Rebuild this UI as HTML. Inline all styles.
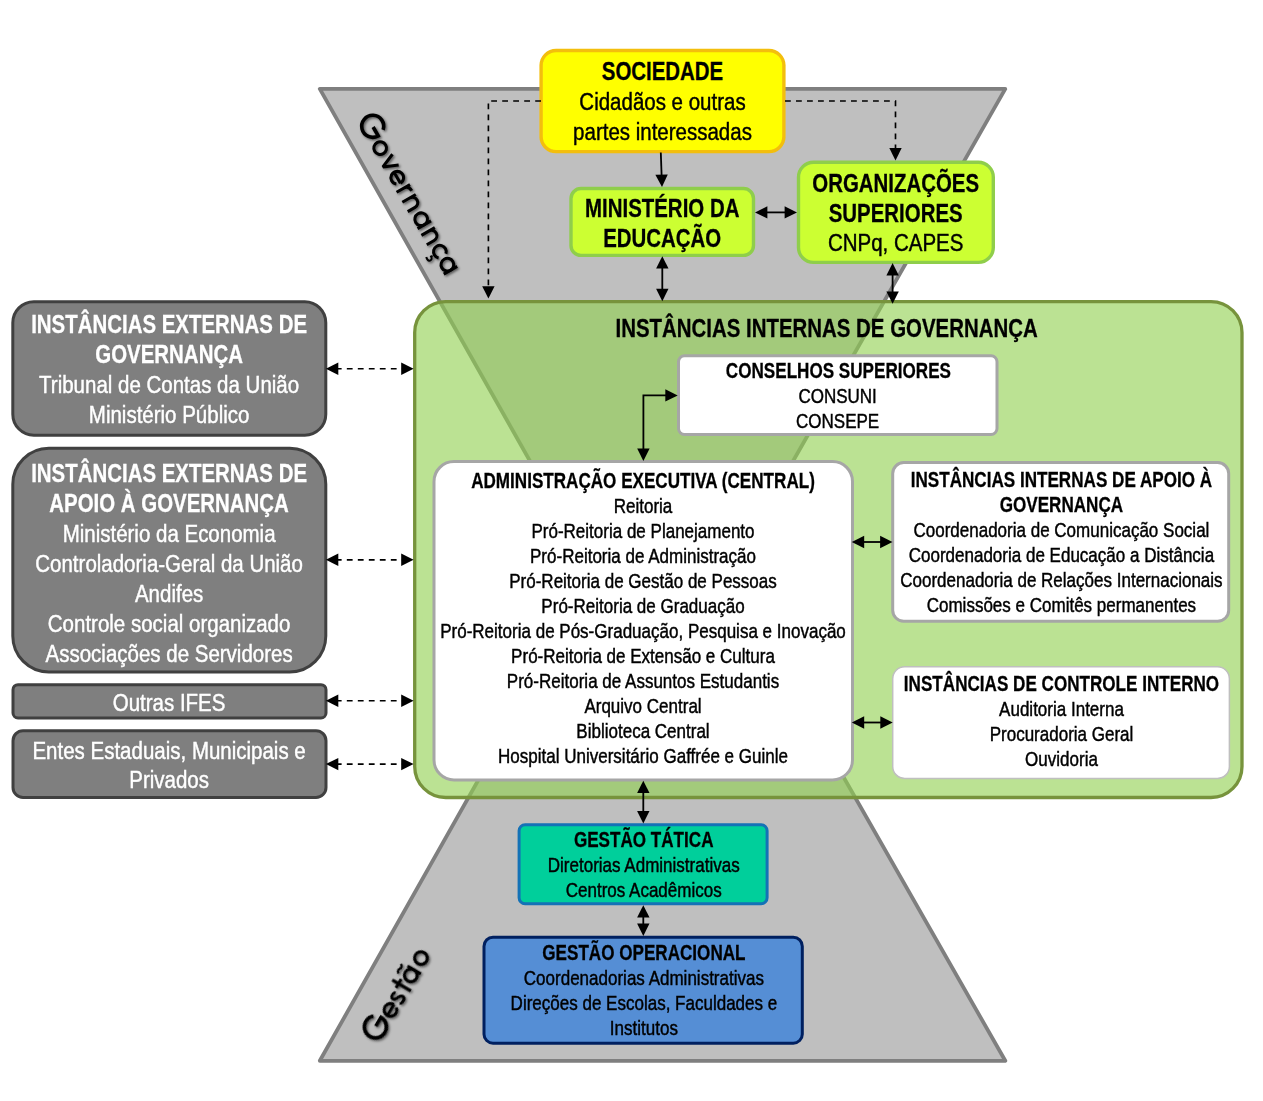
<!DOCTYPE html>
<html lang="pt-BR">
<head>
<meta charset="utf-8">
<title>Governança e Gestão</title>
<style>
html,body{margin:0;padding:0;background:#fff;}
body{width:1263px;height:1101px;overflow:hidden;font-family:"Liberation Sans",sans-serif;}
svg{display:block;}
text{font-family:"Liberation Sans",sans-serif;}
</style>
</head>
<body>
<svg width="1263" height="1101" viewBox="0 0 1263 1101">
<defs>
<filter id="sh" x="-20%" y="-20%" width="140%" height="140%">
<feDropShadow dx="1.4" dy="1.4" stdDeviation="1" flood-color="#000" flood-opacity="0.55"/>
</filter>
<filter id="soft" x="-5%" y="-5%" width="110%" height="110%"><feGaussianBlur stdDeviation="0.55"/></filter>
</defs>
<rect width="1263" height="1101" fill="#fff"/>
<polygon points="319.8,88.9 1005.3,88.9 728.2,574.8 1005.3,1060.8 319.8,1060.8 594.2,574.8" fill="#bfbfbf" stroke="#7f7f7f" stroke-width="3.8" stroke-linejoin="round"/>
<g fill="none" stroke="#000" stroke-width="3.05" stroke-linejoin="miter" filter="url(#sh)">
<g transform="translate(362.09 132.42) rotate(60.05)">
<path d="M8.30 -19.47 A11.0 11.0 0 1 0 11.00 -12.25 L0.80 -12.25" stroke-width="3.6"/><circle cx="22.6" cy="-7.85" r="6.35"/><path stroke-linejoin="bevel" d="M34.10 -15.4 L40.30 -0.8 L46.50 -15.4"/><path d="M63.15 -7.85 A6.35 6.35 0 1 0 61.80 -3.94 M50.45 -7.85 L63.15 -7.85"/><path d="M69.1 0 L69.1 -15.5 M69.1 -8.6 C69.1 -12.4 71.10 -13.8 75.40 -13.8"/><path d="M80.6 0 L80.6 -15.5 M80.6 -8.5 A5.4 5.4 0 0 1 91.39999999999999 -8.5 L91.39999999999999 0"/><circle cx="104.75" cy="-7.85" r="6.35"/><path d="M111.10 0 L111.10 -15.5"/><path d="M118.8 0 L118.8 -15.5 M118.8 -8.5 A5.4 5.4 0 0 1 129.6 -8.5 L129.6 0"/><path d="M146.92 -12.10 A6.35 6.35 0 1 0 146.92 -3.60"/><circle cx="157.2" cy="-7.85" r="6.35"/><path d="M163.55 0 L163.55 -15.5"/>
<path d="M142.3 0.6 L142.0 2.2 q3.4 0.2 3.0 2.9 q-0.7 2.6 -5.0 1.5" stroke-width="2.0"/>
</g>
<g transform="translate(385.95 1033.1) rotate(-59.5)">
<path d="M8.30 -19.47 A11.0 11.0 0 1 0 11.00 -12.25 L0.80 -12.25" stroke-width="3.6"/><path d="M28.65 -7.85 A6.35 6.35 0 1 0 27.30 -3.94 M15.95 -7.85 L28.65 -7.85"/><path d="M39.80 -12.2 C38.90 -14.5 33.00 -14.7 33.00 -11.3 C33.00 -7.6 40.20 -8.4 40.20 -4.3 C40.20 -0.6 33.50 -0.8 32.60 -3.4" stroke-width="2.9"/><path d="M49.0 0 L49.0 -21.6 M44.10 -14.3 L54.30 -14.3"/><circle cx="62.35" cy="-7.85" r="6.35"/><path d="M68.70 0 L68.70 -15.5"/><circle cx="82.4" cy="-7.85" r="6.35"/>
<path d="M57.6 -19.6 q2.4 -2.9 4.9 -1.2 q2.4 1.7 4.9 -1.2" stroke-width="2.3"/>
</g>
</g>
<rect x="414.7" y="301.6" width="827.3" height="495.9" rx="31" ry="31" fill="rgba(146,208,80,0.62)" stroke="#77933c" stroke-width="3.3"/>
<rect x="541.1" y="50.5" width="242.8" height="101.1" rx="15" ry="15" fill="#ffff00" stroke="#f3be0c" stroke-width="3.4" filter="url(#soft)"/>
<rect x="571" y="188.5" width="182.5" height="66.9" rx="10" ry="10" fill="#ccff33" stroke="#8fce4c" stroke-width="3.4" filter="url(#soft)"/>
<rect x="798.5" y="162.2" width="194.8" height="100.2" rx="15" ry="15" fill="#ccff33" stroke="#8fce4c" stroke-width="3.4" filter="url(#soft)"/>
<rect x="12.8" y="301.7" width="313" height="133.5" rx="21" ry="21" fill="#7f7f7f" stroke="#404040" stroke-width="3"/>
<rect x="12.8" y="448.3" width="313" height="223.6" rx="36" ry="36" fill="#7f7f7f" stroke="#404040" stroke-width="3"/>
<rect x="13" y="684.7" width="313" height="33.3" rx="5" ry="5" fill="#7f7f7f" stroke="#404040" stroke-width="3"/>
<rect x="13" y="730.7" width="313" height="66.7" rx="10" ry="10" fill="#7f7f7f" stroke="#404040" stroke-width="3"/>
<rect x="678.5" y="355.8" width="318.5" height="78.7" rx="6" ry="6" fill="#fff" stroke="#a6a6a6" stroke-width="3"/>
<rect x="434" y="461.5" width="418.5" height="318.4" rx="20" ry="20" fill="#fff" stroke="#a6a6a6" stroke-width="3"/>
<rect x="892.7" y="462.6" width="336" height="158.6" rx="11" ry="11" fill="#fff" stroke="#a6a6a6" stroke-width="3"/>
<rect x="892.7" y="666.8" width="336.7" height="111.6" rx="12" ry="12" fill="#fff" stroke="#bfbfbf" stroke-width="1.5"/>
<rect x="519.1" y="824.7" width="248" height="79" rx="6" ry="6" fill="#00cf9b" stroke="#1472b6" stroke-width="3"/>
<rect x="484" y="937.2" width="318.3" height="106" rx="9" ry="9" fill="#558ed5" stroke="#002060" stroke-width="3"/>
<path d="M660.80 152.50 L661.66 177.09" fill="none" stroke="#000" stroke-width="1.8"/>
<polygon points="662.00,187.00 655.37,174.82 667.77,174.39" fill="#000"/>
<path d="M764.92 212.40 L787.08 212.40" fill="none" stroke="#000" stroke-width="1.8"/>
<polygon points="797.00,212.40 784.60,218.60 784.60,206.20" fill="#000"/>
<polygon points="755.00,212.40 767.40,206.20 767.40,218.60" fill="#000"/>
<path d="M662.30 266.12 L662.30 291.28" fill="none" stroke="#000" stroke-width="1.8"/>
<polygon points="662.30,301.20 656.10,288.80 668.50,288.80" fill="#000"/>
<polygon points="662.30,256.20 668.50,268.60 656.10,268.60" fill="#000"/>
<path d="M892.60 272.92 L892.60 293.88" fill="none" stroke="#000" stroke-width="1.8"/>
<polygon points="892.60,303.80 886.40,291.40 898.80,291.40" fill="#000"/>
<polygon points="892.60,263.00 898.80,275.40 886.40,275.40" fill="#000"/>
<path d="M785.00 101.00 L895.50 101.00 L895.50 150.58" fill="none" stroke="#000" stroke-width="1.65" stroke-dasharray="5.8 5.2"/>
<polygon points="895.50,160.50 889.30,148.10 901.70,148.10" fill="#000"/>
<path d="M541.00 101.00 L488.40 101.00 L488.40 288.68" fill="none" stroke="#000" stroke-width="1.65" stroke-dasharray="5.8 5.2"/>
<polygon points="488.40,298.60 482.20,286.20 494.60,286.20" fill="#000"/>
<path d="M335.82 368.70 L403.68 368.70" fill="none" stroke="#000" stroke-width="1.65" stroke-dasharray="5.8 5.2"/>
<polygon points="413.60,368.70 401.20,374.90 401.20,362.50" fill="#000"/>
<polygon points="325.90,368.70 338.30,362.50 338.30,374.90" fill="#000"/>
<path d="M335.82 559.80 L403.68 559.80" fill="none" stroke="#000" stroke-width="1.65" stroke-dasharray="5.8 5.2"/>
<polygon points="413.60,559.80 401.20,566.00 401.20,553.60" fill="#000"/>
<polygon points="325.90,559.80 338.30,553.60 338.30,566.00" fill="#000"/>
<path d="M335.82 700.70 L403.68 700.70" fill="none" stroke="#000" stroke-width="1.65" stroke-dasharray="5.8 5.2"/>
<polygon points="413.60,700.70 401.20,706.90 401.20,694.50" fill="#000"/>
<polygon points="325.90,700.70 338.30,694.50 338.30,706.90" fill="#000"/>
<path d="M335.82 764.10 L403.68 764.10" fill="none" stroke="#000" stroke-width="1.65" stroke-dasharray="5.8 5.2"/>
<polygon points="413.60,764.10 401.20,770.30 401.20,757.90" fill="#000"/>
<polygon points="325.90,764.10 338.30,757.90 338.30,770.30" fill="#000"/>
<path d="M643.40 451.08 L643.40 395.40 L667.78 395.40" fill="none" stroke="#000" stroke-width="1.8"/>
<polygon points="677.70,395.40 665.30,401.60 665.30,389.20" fill="#000"/>
<polygon points="643.40,461.00 637.20,448.60 649.60,448.60" fill="#000"/>
<path d="M861.72 542.00 L882.58 542.00" fill="none" stroke="#000" stroke-width="1.8"/>
<polygon points="892.50,542.00 880.10,548.20 880.10,535.80" fill="#000"/>
<polygon points="851.80,542.00 864.20,535.80 864.20,548.20" fill="#000"/>
<path d="M861.72 722.50 L882.78 722.50" fill="none" stroke="#000" stroke-width="1.8"/>
<polygon points="892.70,722.50 880.30,728.70 880.30,716.30" fill="#000"/>
<polygon points="851.80,722.50 864.20,716.30 864.20,728.70" fill="#000"/>
<path d="M643.30 790.62 L643.30 813.58" fill="none" stroke="#000" stroke-width="1.8"/>
<polygon points="643.30,823.50 637.10,811.10 649.50,811.10" fill="#000"/>
<polygon points="643.30,780.70 649.50,793.10 637.10,793.10" fill="#000"/>
<path d="M643.30 915.12 L643.30 925.98" fill="none" stroke="#000" stroke-width="1.8"/>
<polygon points="643.30,935.90 637.10,923.50 649.50,923.50" fill="#000"/>
<polygon points="643.30,905.20 649.50,917.60 637.10,917.60" fill="#000"/>
<g font-family="Liberation Sans, sans-serif" text-anchor="middle">
<text transform="translate(662.50 79.70) scale(0.811 1)" font-size="25.2" font-weight="700" stroke="#000" stroke-width="0.3" fill="#000">SOCIEDADE</text>
<text transform="translate(662.50 109.60) scale(0.8435 1)" font-size="24.3" stroke="#000" stroke-width="0.45" fill="#000">Cidadãos e outras</text>
<text transform="translate(662.50 139.50) scale(0.8435 1)" font-size="24.3" stroke="#000" stroke-width="0.45" fill="#000">partes interessadas</text>
<text transform="translate(662.20 216.70) scale(0.811 1)" font-size="25.2" font-weight="700" stroke="#000" stroke-width="0.3" fill="#000">MINISTÉRIO DA</text>
<text transform="translate(662.20 246.50) scale(0.811 1)" font-size="25.2" font-weight="700" stroke="#000" stroke-width="0.3" fill="#000">EDUCAÇÃO</text>
<text transform="translate(895.70 191.70) scale(0.811 1)" font-size="25.2" font-weight="700" stroke="#000" stroke-width="0.3" fill="#000">ORGANIZAÇÕES</text>
<text transform="translate(895.70 221.55) scale(0.811 1)" font-size="25.2" font-weight="700" stroke="#000" stroke-width="0.3" fill="#000">SUPERIORES</text>
<text transform="translate(895.70 251.40) scale(0.8435 1)" font-size="24.3" stroke="#000" stroke-width="0.45" fill="#000">CNPq, CAPES</text>
<text transform="translate(169.10 332.60) scale(0.811 1)" font-size="25.2" font-weight="700" stroke="#fff" stroke-width="0.3" fill="#fff">INSTÂNCIAS EXTERNAS DE</text>
<text transform="translate(169.10 362.60) scale(0.811 1)" font-size="25.2" font-weight="700" stroke="#fff" stroke-width="0.3" fill="#fff">GOVERNANÇA</text>
<text transform="translate(169.10 392.60) scale(0.8435 1)" font-size="24.3" stroke="#fff" stroke-width="0.45" fill="#fff">Tribunal de Contas da União</text>
<text transform="translate(169.10 422.60) scale(0.8435 1)" font-size="24.3" stroke="#fff" stroke-width="0.45" fill="#fff">Ministério Público</text>
<text transform="translate(169.10 482.10) scale(0.811 1)" font-size="25.2" font-weight="700" stroke="#fff" stroke-width="0.3" fill="#fff">INSTÂNCIAS EXTERNAS DE</text>
<text transform="translate(169.10 512.03) scale(0.811 1)" font-size="25.2" font-weight="700" stroke="#fff" stroke-width="0.3" fill="#fff">APOIO À GOVERNANÇA</text>
<text transform="translate(169.10 541.96) scale(0.8435 1)" font-size="24.3" stroke="#fff" stroke-width="0.45" fill="#fff">Ministério da Economia</text>
<text transform="translate(169.10 571.89) scale(0.8435 1)" font-size="24.3" stroke="#fff" stroke-width="0.45" fill="#fff">Controladoria-Geral da União</text>
<text transform="translate(169.10 601.82) scale(0.8435 1)" font-size="24.3" stroke="#fff" stroke-width="0.45" fill="#fff">Andifes</text>
<text transform="translate(169.10 631.75) scale(0.8435 1)" font-size="24.3" stroke="#fff" stroke-width="0.45" fill="#fff">Controle social organizado</text>
<text transform="translate(169.10 661.68) scale(0.8435 1)" font-size="24.3" stroke="#fff" stroke-width="0.45" fill="#fff">Associações de Servidores</text>
<text transform="translate(169.10 710.60) scale(0.8435 1)" font-size="24.3" stroke="#fff" stroke-width="0.45" fill="#fff">Outras IFES</text>
<text transform="translate(169.10 758.60) scale(0.8435 1)" font-size="24.3" stroke="#fff" stroke-width="0.45" fill="#fff">Entes Estaduais, Municipais e</text>
<text transform="translate(169.10 788.30) scale(0.8435 1)" font-size="24.3" stroke="#fff" stroke-width="0.45" fill="#fff">Privados</text>
<text transform="translate(826.60 337.40) scale(0.811 1)" font-size="25.2" font-weight="700" stroke="#000" stroke-width="0.3" fill="#000">INSTÂNCIAS INTERNAS DE GOVERNANÇA</text>
<text transform="translate(838.40 378.00) scale(0.8066 1)" font-size="21.2" font-weight="700" stroke="#000" stroke-width="0.3" fill="#000">CONSELHOS SUPERIORES</text>
<text transform="translate(837.60 403.00) scale(0.8385 1)" font-size="20.3" stroke="#000" stroke-width="0.45" fill="#000">CONSUNI</text>
<text transform="translate(837.60 428.00) scale(0.8385 1)" font-size="20.3" stroke="#000" stroke-width="0.45" fill="#000">CONSEPE</text>
<text transform="translate(643.00 487.60) scale(0.8066 1)" font-size="21.2" font-weight="700" stroke="#000" stroke-width="0.3" fill="#000">ADMINISTRAÇÃO EXECUTIVA (CENTRAL)</text>
<text transform="translate(643.00 512.63) scale(0.8385 1)" font-size="20.3" stroke="#000" stroke-width="0.45" fill="#000">Reitoria</text>
<text transform="translate(643.00 537.66) scale(0.8385 1)" font-size="20.3" stroke="#000" stroke-width="0.45" fill="#000">Pró-Reitoria de Planejamento</text>
<text transform="translate(643.00 562.69) scale(0.8385 1)" font-size="20.3" stroke="#000" stroke-width="0.45" fill="#000">Pró-Reitoria de Administração</text>
<text transform="translate(643.00 587.72) scale(0.8385 1)" font-size="20.3" stroke="#000" stroke-width="0.45" fill="#000">Pró-Reitoria de Gestão de Pessoas</text>
<text transform="translate(643.00 612.75) scale(0.8385 1)" font-size="20.3" stroke="#000" stroke-width="0.45" fill="#000">Pró-Reitoria de Graduação</text>
<text transform="translate(643.00 637.78) scale(0.8385 1)" font-size="20.3" stroke="#000" stroke-width="0.45" fill="#000">Pró-Reitoria de Pós-Graduação, Pesquisa e Inovação</text>
<text transform="translate(643.00 662.81) scale(0.8385 1)" font-size="20.3" stroke="#000" stroke-width="0.45" fill="#000">Pró-Reitoria de Extensão e Cultura</text>
<text transform="translate(643.00 687.84) scale(0.8385 1)" font-size="20.3" stroke="#000" stroke-width="0.45" fill="#000">Pró-Reitoria de Assuntos Estudantis</text>
<text transform="translate(643.00 712.87) scale(0.8385 1)" font-size="20.3" stroke="#000" stroke-width="0.45" fill="#000">Arquivo Central</text>
<text transform="translate(643.00 737.90) scale(0.8385 1)" font-size="20.3" stroke="#000" stroke-width="0.45" fill="#000">Biblioteca Central</text>
<text transform="translate(643.00 762.93) scale(0.8385 1)" font-size="20.3" stroke="#000" stroke-width="0.45" fill="#000">Hospital Universitário Gaffrée e Guinle</text>
<text transform="translate(1061.40 486.90) scale(0.8066 1)" font-size="21.2" font-weight="700" stroke="#000" stroke-width="0.3" fill="#000">INSTÂNCIAS INTERNAS DE APOIO À</text>
<text transform="translate(1061.40 511.90) scale(0.8066 1)" font-size="21.2" font-weight="700" stroke="#000" stroke-width="0.3" fill="#000">GOVERNANÇA</text>
<text transform="translate(1061.40 536.90) scale(0.8385 1)" font-size="20.3" stroke="#000" stroke-width="0.45" fill="#000">Coordenadoria de Comunicação Social</text>
<text transform="translate(1061.40 561.90) scale(0.8385 1)" font-size="20.3" stroke="#000" stroke-width="0.45" fill="#000">Coordenadoria de Educação a Distância</text>
<text transform="translate(1061.40 586.90) scale(0.8385 1)" font-size="20.3" stroke="#000" stroke-width="0.45" fill="#000">Coordenadoria de Relações Internacionais</text>
<text transform="translate(1061.40 611.90) scale(0.8385 1)" font-size="20.3" stroke="#000" stroke-width="0.45" fill="#000">Comissões e Comitês permanentes</text>
<text transform="translate(1061.50 690.80) scale(0.8066 1)" font-size="21.2" font-weight="700" stroke="#000" stroke-width="0.3" fill="#000">INSTÂNCIAS DE CONTROLE INTERNO</text>
<text transform="translate(1061.50 715.70) scale(0.8385 1)" font-size="20.3" stroke="#000" stroke-width="0.45" fill="#000">Auditoria Interna</text>
<text transform="translate(1061.50 740.60) scale(0.8385 1)" font-size="20.3" stroke="#000" stroke-width="0.45" fill="#000">Procuradoria Geral</text>
<text transform="translate(1061.50 765.50) scale(0.8385 1)" font-size="20.3" stroke="#000" stroke-width="0.45" fill="#000">Ouvidoria</text>
<text transform="translate(643.70 847.00) scale(0.8066 1)" font-size="21.2" font-weight="700" stroke="#000" stroke-width="0.3" fill="#000">GESTÃO TÁTICA</text>
<text transform="translate(643.70 872.00) scale(0.8385 1)" font-size="20.3" stroke="#000" stroke-width="0.45" fill="#000">Diretorias Administrativas</text>
<text transform="translate(643.70 897.00) scale(0.8385 1)" font-size="20.3" stroke="#000" stroke-width="0.45" fill="#000">Centros Acadêmicos</text>
<text transform="translate(643.90 960.00) scale(0.8066 1)" font-size="21.2" font-weight="700" stroke="#000" stroke-width="0.3" fill="#000">GESTÃO OPERACIONAL</text>
<text transform="translate(643.90 985.00) scale(0.8385 1)" font-size="20.3" stroke="#000" stroke-width="0.45" fill="#000">Coordenadorias Administrativas</text>
<text transform="translate(643.90 1010.00) scale(0.8385 1)" font-size="20.3" stroke="#000" stroke-width="0.45" fill="#000">Direções de Escolas, Faculdades e</text>
<text transform="translate(643.90 1035.00) scale(0.8385 1)" font-size="20.3" stroke="#000" stroke-width="0.45" fill="#000">Institutos</text>
</g>
</svg>
</body>
</html>
